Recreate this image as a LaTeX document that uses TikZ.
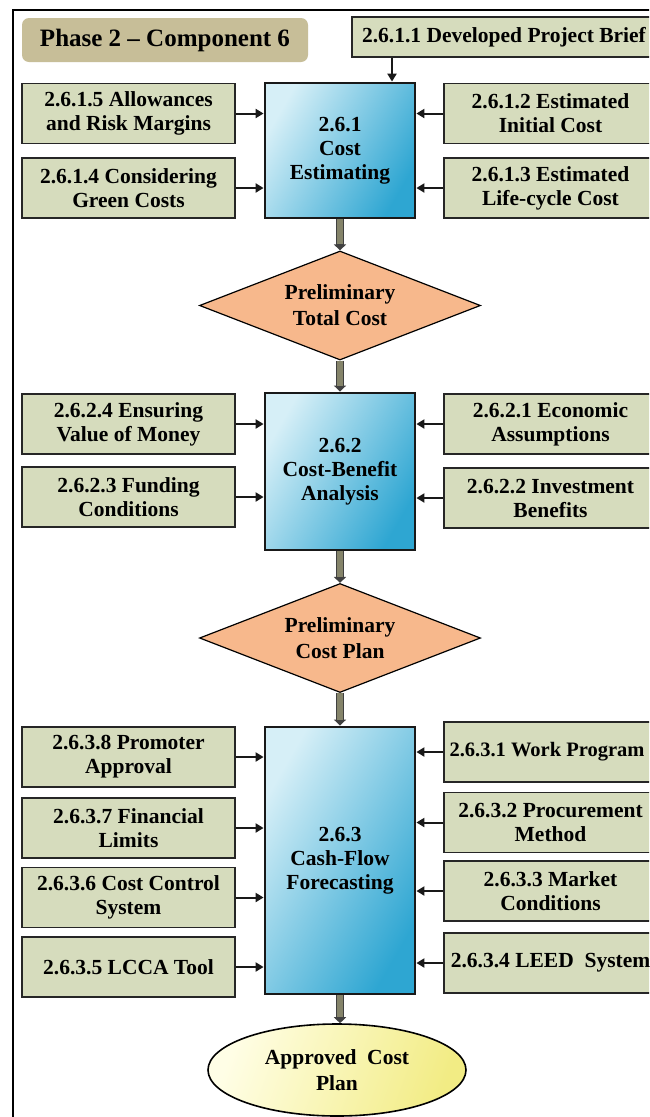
\documentclass[tikz,border=0pt]{standalone}
\usepackage{fontspec}
\setmainfont{Liberation Serif}
\usetikzlibrary{shapes.geometric,arrows.meta,calc}

\definecolor{sage}{HTML}{D6DCBD}
\definecolor{phasetan}{HTML}{C7BE98}
\definecolor{peach}{HTML}{F7B88C}
\definecolor{blueL}{HTML}{D6EFF7}
\definecolor{blueD}{HTML}{2EA6D2}
\definecolor{yellowL}{HTML}{FFFEE6}
\definecolor{yellowD}{HTML}{F2EC84}
\definecolor{shaft}{HTML}{85846A}

\newcommand\boxfont{\fontsize{21.5pt}{24pt}\selectfont\bfseries}
\newcommand\shapefont{\fontsize{21.5pt}{26pt}\selectfont\bfseries}
\newcommand\phasefont{\fontsize{25pt}{28pt}\selectfont\bfseries}

\tikzset{
  phasebox/.style={fill=phasetan, rounded corners=7pt, minimum width=286pt,
    minimum height=44pt, inner sep=0pt, font=\phasefont},
  inbox/.style={draw=black!85, line width=1.3pt, fill=sage, minimum width=213pt,
    minimum height=60pt, inner sep=0pt, align=center, font=\boxfont},
  topbox/.style={inbox, minimum width=304pt, minimum height=40pt},
  core/.style={draw=black!90, line width=2.8pt, top color=blueL, bottom color=blueD,
    shading angle=60, minimum width=150pt, inner sep=0pt, align=center, font=\boxfont},
  decision/.style={diamond, aspect=2.6, draw=black, line width=1.2pt, fill=peach,
    minimum width=281pt, minimum height=109pt, inner sep=0pt, align=center,
    font=\shapefont},
  result/.style={ellipse, draw=black, line width=1.6pt, top color=yellowL,
    bottom color=yellowD, shading angle=70, minimum width=258pt, minimum height=92pt,
    inner sep=0pt, align=center, font=\shapefont},
  thinarrow/.style={draw=black!90, line width=2pt, -{Triangle[length=8pt,width=9pt]}},
  fatarrow/.style={draw=black!75, line width=8.5pt, -{Triangle[length=6pt,width=12pt]},
    postaction={draw=shaft, line width=5.5pt, shorten >=6pt, -}},
}

\begin{document}
\begin{tikzpicture}[x=1pt,y=-1pt]
\useasboundingbox (0,0) rectangle (649,1117);
\clip (0,0) rectangle (649,1117);
\fill[white] (0,0) rectangle (649,1117);

% outer frame (runs past the right and bottom edges)
\draw[line width=2.6pt] (13,10) rectangle (700,1160);

% title
\node[phasebox] (phase) at (165,40) {Phase 2 – Component 6};

% ---- 2.6.1 Cost Estimating ----
\node[topbox] (p2611) at (504,37) {2.6.1.1 Developed Project Brief};
\node[core, minimum height=135pt] (c261) at (340,150.5) {2.6.1\\Cost\\Estimating};
\node[inbox] (p2615) at (128.5,113.5) {2.6.1.5 Allowances\\and Risk Margins};
\node[inbox] (p2614) at (128.5,188) {2.6.1.4 Considering\\Green Costs};
\node[inbox] (p2612) at (550.5,113.5) {2.6.1.2 Estimated\\Initial Cost};
\node[inbox] (p2613) at (550.5,188) {2.6.1.3 Estimated\\Life-cycle Cost};
\coordinate (briefx) at (392,0);

\draw[thinarrow] (p2611.south -| briefx) -- (c261.north -| briefx);
\draw[thinarrow] (p2615.east) -- (p2615.east -| c261.west);
\draw[thinarrow] (p2614.east) -- (p2614.east -| c261.west);
\draw[thinarrow] (p2612.west) -- (p2612.west -| c261.east);
\draw[thinarrow] (p2613.west) -- (p2613.west -| c261.east);

\node[decision] (d1) at (340,305.5) {Preliminary\\Total Cost};
\draw[fatarrow] (c261.south) -- (d1.north);

% ---- 2.6.2 Cost-Benefit Analysis ----
\node[core, minimum height=157pt] (c262) at (340,471.5) {2.6.2\\Cost-Benefit\\Analysis};
\node[inbox] (p2624) at (128.5,424) {2.6.2.4 Ensuring\\Value of Money};
\node[inbox] (p2623) at (128.5,497) {2.6.2.3 Funding\\Conditions};
\node[inbox] (p2621) at (550.5,424) {2.6.2.1 Economic\\Assumptions};
\node[inbox] (p2622) at (550.5,498) {2.6.2.2 Investment\\Benefits};
\draw[fatarrow] (d1.south) -- (c262.north);
\draw[thinarrow] (p2624.east) -- (p2624.east -| c262.west);
\draw[thinarrow] (p2623.east) -- (p2623.east -| c262.west);
\draw[thinarrow] (p2621.west) -- (p2621.west -| c262.east);
\draw[thinarrow] (p2622.west) -- (p2622.west -| c262.east);

\node[decision] (d2) at (340,638) {Preliminary\\Cost Plan};
\draw[fatarrow] (c262.south) -- (d2.north);

% ---- 2.6.3 Cash-Flow Forecasting ----
\node[core, minimum height=267pt] (c263) at (340,860.5) {2.6.3\\Cash-Flow\\Forecasting};
\node[inbox] (p2638) at (128.5,757) {2.6.3.8 Promoter\\Approval};
\node[inbox] (p2637) at (128.5,828) {2.6.3.7 Financial\\Limits};
\node[inbox] (p2636) at (128.5,897.5) {2.6.3.6 Cost Control\\System};
\node[inbox] (p2635) at (128.5,967) {2.6.3.5 LCCA Tool};
\node[inbox, font=\fontsize{20.5pt}{24pt}\selectfont\bfseries] (p2631) at (550.5,752)
  {2.6.3.1 Work Program\rule{7pt}{0pt}};
\node[inbox] (p2632) at (550.5,822.5) {2.6.3.2 Procurement\\Method};
\node[inbox] (p2633) at (550.5,891) {2.6.3.3 Market\\Conditions};
\node[inbox] (p2634) at (550.5,963) {2.6.3.4 LEED\ \ System};
\draw[fatarrow] (d2.south) -- (c263.north);
\foreach \n in {p2638,p2637,p2636,p2635}
  \draw[thinarrow] (\n.east) -- (\n.east -| c263.west);
\foreach \n in {p2631,p2632,p2633,p2634}
  \draw[thinarrow] (\n.west) -- (\n.west -| c263.east);

\node[result] (plan) at (337,1070) {Approved\ \ Cost\\Plan};
\draw[fatarrow] (c263.south) -- (c263.south |- plan.north);
\end{tikzpicture}
\end{document}
